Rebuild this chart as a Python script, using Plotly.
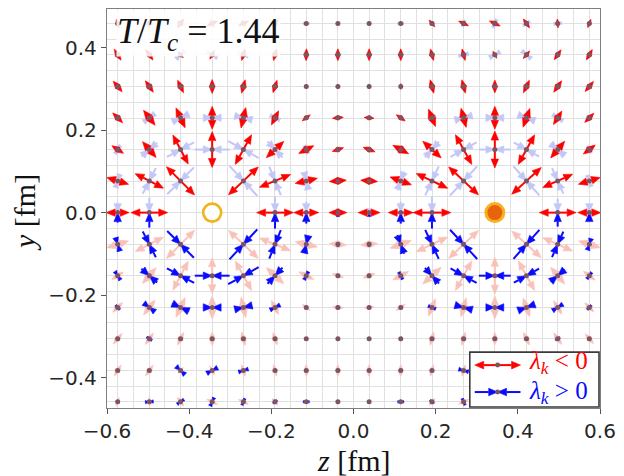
import math
import plotly.graph_objects as go

# ---------------- data ----------------
# lattice columns (z, fm) and rows (y, fm) where the principal axes are drawn
Z_COLS = [-0.574, -0.497, -0.421, -0.344, -0.268, -0.191, -0.115, -0.038,
          0.038, 0.115, 0.191, 0.268, 0.344, 0.421, 0.497, 0.574]
Y_ROWS = [0.459, 0.383, 0.306, 0.230, 0.153, 0.077, 0.0,
          -0.077, -0.153, -0.230, -0.306, -0.383, -0.459]

# orientation (deg, from +z, counter-clockwise) of the lambda_k<0 eigenvector;
# the lambda_k>0 eigenvector is perpendicular to it
RED_ANGLE = [
    [108, 85, 55, 25, 25, 50, 90, 90, 90, 90, 130, 155, 155, 125, 95, 70],
    [122, 125, 133, 62, 73, 75, 88, 90, 90, 90, 105, 105, 120, 50, 55, 60],
    [130, 125, 115, 90, 75, 72, 90, 90, 90, 90, 105, 105, 90, 65, 55, 50],
    [135, 128, 115, 90, 77, 63, 37, 5, 175, 145, 112, 105, 90, 70, 58, 45],
    [147, 131, 118, 90, 61, 43, 27, 18, 160, 152, 138, 119, 90, 61, 50, 37],
    [163, 153, 135, 90, 43, 22, 13, 5, 175, 160, 155, 137, 90, 42, 24, 17],
    [0, 0, 0, 0, 0, 0, 0, 0, 0, 0, 0, 0, 0, 0, 0, 0],
    [17, 27, 45, 90, 137, 158, 167, 175, 5, 20, 25, 43, 90, 138, 156, 163],
    [33, 49, 62, 90, 119, 137, 153, 162, 20, 28, 42, 61, 90, 119, 130, 143],
    [45, 52, 65, 90, 103, 117, 143, 175, 5, 35, 68, 75, 90, 110, 122, 135],
    [50, 55, 65, 90, 105, 108, 90, 90, 90, 90, 75, 75, 90, 115, 125, 130],
    [58, 55, 47, 118, 107, 105, 92, 90, 90, 90, 75, 75, 60, 130, 125, 120],
    [72, 95, 125, 155, 155, 130, 90, 90, 90, 90, 50, 25, 25, 55, 85, 110],
]
# |lambda_k| for lambda_k<0 (arrow length, arbitrary units); 0 = not shown
RED_MAG = [
    [9, 9, 11, 12, 11, 9, 3, 3, 3, 3, 9, 11, 12, 11, 9, 9],
    [13, 13, 8, 10, 12, 12, 12, 12, 12, 12, 12, 12, 8, 10, 12, 12],
    [14, 14, 14, 14, 14, 13, 5, 5, 5, 6, 14, 14, 13, 14, 14, 13],
    [14, 19, 22, 23, 21, 16, 10, 11, 10, 11, 19, 20, 23, 20, 16, 13],
    [14, 21, 33, 36, 34, 24, 17, 12, 13, 18, 25, 34, 37, 34, 22, 15],
    [23, 32, 40, 0, 41, 34, 23, 17, 17, 23, 35, 41, 0, 40, 33, 23],
    [23, 37, 0, 0, 0, 37, 25, 18, 22, 25, 38, 0, 0, 0, 37, 23],
    [23, 32, 40, 0, 41, 34, 23, 17, 17, 23, 35, 41, 0, 40, 33, 23],
    [14, 21, 33, 36, 34, 24, 17, 12, 13, 18, 25, 34, 37, 34, 22, 15],
    [14, 19, 22, 23, 21, 16, 10, 11, 10, 11, 19, 20, 23, 20, 16, 13],
    [14, 14, 14, 14, 14, 13, 5, 5, 5, 6, 14, 14, 13, 14, 14, 13],
    [13, 13, 8, 10, 12, 12, 12, 12, 12, 12, 12, 12, 8, 10, 12, 12],
    [9, 9, 11, 12, 11, 9, 3, 3, 3, 3, 9, 11, 12, 11, 9, 9],
]
# |lambda_k| for lambda_k>0
BLUE_MAG = [
    [3, 8, 8, 9, 7, 5, 6, 3, 3, 6, 5, 7, 9, 8, 8, 3],
    [3, 3, 12, 12, 10, 3, 3, 3, 3, 3, 3, 10, 12, 12, 3, 3],
    [3, 6, 3, 3, 3, 3, 3, 3, 3, 3, 3, 3, 3, 3, 5, 3],
    [6, 14, 19, 18, 18, 11, 3, 3, 3, 3, 8, 18, 18, 18, 12, 6],
    [10, 21, 31, 35, 35, 22, 9, 3, 3, 8, 21, 30, 32, 29, 19, 8],
    [14, 29, 38, 0, 41, 31, 18, 4, 4, 20, 32, 40, 0, 39, 28, 12],
    [20, 30, 0, 0, 0, 32, 22, 8, 8, 22, 32, 0, 0, 0, 28, 18],
    [14, 29, 38, 0, 41, 31, 18, 4, 4, 20, 32, 40, 0, 39, 28, 12],
    [10, 21, 31, 35, 35, 22, 9, 3, 3, 8, 21, 30, 32, 29, 19, 8],
    [6, 14, 19, 18, 18, 11, 3, 3, 3, 3, 8, 18, 18, 18, 12, 6],
    [3, 6, 3, 3, 3, 3, 3, 3, 3, 3, 3, 3, 3, 3, 5, 3],
    [3, 3, 12, 12, 10, 3, 3, 3, 3, 3, 3, 10, 12, 12, 3, 3],
    [3, 8, 8, 9, 7, 5, 6, 3, 3, 6, 5, 7, 9, 8, 8, 3],
]
QUARK_Z = [-0.344, 0.344]
QUARK_Y = [0.0, 0.0]
X_TICKS = [-0.6, -0.4, -0.2, 0.0, 0.2, 0.4, 0.6]
Y_TICKS = [-0.4, -0.2, 0.0, 0.2, 0.4]
LATTICE_STEP = 0.03825
TITLE = "<i>T</i>/<i>T</i><sub><i>c</i></sub> = 1.44"

# ---------------- styling ----------------
W, H = 624, 476
ML, MR, MT, MB = 107, 21, 8, 68
PW, PH = W - ML - MR, H - MT - MB
XR = [-0.6, 0.6]
YR = [-0.474, 0.494]
UNIT = (XR[1] - XR[0]) / PW        # arrow unit -> fm (1 unit = 1 px)
HEAD_LEN = 9 * UNIT
HEAD_W = 7.5 * UNIT
SHAFT = 2.0
RED, BLUE = "#ff0000", "#0a0aff"
RED_F, BLUE_F = "#f8c2ba", "#c3c7f6"
DOT = "#7d5462"
SERIF = "Liberation Serif"

groups = {k: {"lx": [], "ly": [], "hx": [], "hy": []}
          for k in ("red_f", "blue_f", "blue_s", "red_s")}


def head(g, tip, d, h, hw):
    bx, by = tip[0] - d[0] * h, tip[1] - d[1] * h
    nx, ny = -d[1] * hw, d[0] * hw
    g["hx"] += [tip[0], bx + nx, bx - nx, tip[0], None]
    g["hy"] += [tip[1], by + ny, by - ny, tip[1], None]
    return bx, by


def half_arrow(kind, c, d, mag, inward):
    hl = mag / 2.0 * UNIT
    if hl <= 0:
        return
    h = min(HEAD_LEN, hl)
    hw = HEAD_W / 2.0 * (h / HEAD_LEN)
    mid_y = c[1] + d[1] * hl / 2.0
    if kind == "red":
        g = groups["red_s"] if mid_y >= -1e-9 else groups["red_f"]
    else:
        g = groups["blue_s"] if mid_y < -1e-9 else groups["blue_f"]
    outer = (c[0] + d[0] * hl, c[1] + d[1] * hl)
    if inward:
        bx, by = head(g, c, (-d[0], -d[1]), h, hw)
        start = outer
    else:
        bx, by = head(g, outer, d, h, hw)
        start = c
    if hl > h:
        g["lx"] += [start[0], bx, None]
        g["ly"] += [start[1], by, None]


dot_x, dot_y = [], []
for i, yc in enumerate(Y_ROWS):
    for j, zc in enumerate(Z_COLS):
        rm, bm = RED_MAG[i][j], BLUE_MAG[i][j]
        if rm == 0 and bm == 0:
            continue
        th = math.radians(RED_ANGLE[i][j])
        u = (math.cos(th), math.sin(th))
        v = (-math.sin(th), math.cos(th))
        for s in (1, -1):
            half_arrow("red", (zc, yc), (s * u[0], s * u[1]), rm, False)
            half_arrow("blue", (zc, yc), (s * v[0], s * v[1]), bm, True)
        dot_x.append(zc)
        dot_y.append(yc)

fig = go.Figure()
colors = {"red_f": RED_F, "blue_f": BLUE_F, "blue_s": BLUE, "red_s": RED}
for k in ("red_f", "blue_f", "blue_s", "red_s"):
    g = groups[k]
    fig.add_trace(go.Scatter(x=g["lx"], y=g["ly"], mode="lines",
                             line=dict(color=colors[k], width=SHAFT),
                             hoverinfo="skip", showlegend=False))
    fig.add_trace(go.Scatter(x=g["hx"], y=g["hy"], mode="lines", fill="toself",
                             fillcolor=colors[k],
                             line=dict(color=colors[k], width=0.6),
                             hoverinfo="skip", showlegend=False))

fig.add_trace(go.Scatter(x=dot_x, y=dot_y, mode="markers",
                         marker=dict(size=5, color=DOT), hoverinfo="skip",
                         showlegend=False))
# quark (hollow) and antiquark (filled)
fig.add_trace(go.Scatter(x=QUARK_Z[:1], y=QUARK_Y[:1], mode="markers",
                         marker=dict(size=18, color="white",
                                     line=dict(color="#f0b418", width=2.6)),
                         hoverinfo="skip", showlegend=False))
fig.add_trace(go.Scatter(x=QUARK_Z[1:], y=QUARK_Y[1:], mode="markers",
                         marker=dict(size=18, color="#e8640c",
                                     line=dict(color="#f6b21e", width=3)),
                         hoverinfo="skip", showlegend=False))

axis_common = dict(showgrid=False, zeroline=False, showline=True, mirror=True,
                   linecolor="#7f7f7f", linewidth=1.3, ticks="outside",
                   ticklen=5, tickwidth=1.3, tickcolor="#555",
                   tickfont=dict(family="DejaVu Sans", size=20, color="#262626"),
                   tickformat=".1f",
                   minor=dict(tick0=0, dtick=LATTICE_STEP, showgrid=True,
                              gridcolor="#e0e0e0", gridwidth=1.3, ticks=""))
fig.update_xaxes(range=XR, tickvals=X_TICKS, **axis_common)
fig.update_yaxes(range=YR, tickvals=Y_TICKS, **axis_common)


def px2paper(px, py):
    return (px - ML) / PW, (H - MB - py) / PH


shapes = []
annotations = []

# legend box
x0, y0 = px2paper(472, 407)
x1, y1 = px2paper(602, 352)
shapes.append(dict(type="rect", xref="paper", yref="paper", x0=x0, y0=y0,
                   x1=x1, y1=y1, fillcolor="white",
                   line=dict(color="#3a3a3a", width=1.6), layer="above"))


def legend_arrow(cx, cy, half, color, inward):
    for s in (1, -1):
        outer = cx + s * half
        if inward:
            tip, base = cx, cx + s * 9
            line_from = outer
        else:
            tip, base = outer, outer - s * 9
            line_from = cx
        a = px2paper(line_from, cy)
        b = px2paper(base, cy)
        shapes.append(dict(type="line", xref="paper", yref="paper",
                           x0=a[0], y0=a[1], x1=b[0], y1=b[1],
                           line=dict(color=color, width=2), layer="above"))
        p1 = px2paper(tip, cy)
        p2 = px2paper(base, cy - 3.8)
        p3 = px2paper(base, cy + 3.8)
        shapes.append(dict(type="path", xref="paper", yref="paper",
                           path=f"M{p1[0]},{p1[1]} L{p2[0]},{p2[1]} L{p3[0]},{p3[1]} Z",
                           fillcolor=color, line=dict(color=color, width=0.6),
                           layer="above"))
    d0 = px2paper(cx - 2.5, cy + 2.5)
    d1 = px2paper(cx + 2.5, cy - 2.5)
    shapes.append(dict(type="circle", xref="paper", yref="paper",
                       x0=d0[0], y0=d0[1], x1=d1[0], y1=d1[1],
                       fillcolor=DOT, line=dict(width=0), layer="above"))


legend_arrow(500, 365, 23, RED, False)
legend_arrow(500, 392, 23, BLUE, True)
lx, ly = px2paper(530, 362)
annotations.append(dict(xref="paper", yref="paper", x=lx, y=ly, xanchor="left",
                        yanchor="middle", showarrow=False,
                        text="<i>λ</i><sub><i>k</i></sub> &lt; 0",
                        font=dict(family=SERIF, size=25, color=RED)))
lx, ly = px2paper(530, 392)
annotations.append(dict(xref="paper", yref="paper", x=lx, y=ly, xanchor="left",
                        yanchor="middle", showarrow=False,
                        text="<i>λ</i><sub><i>k</i></sub> &gt; 0",
                        font=dict(family=SERIF, size=25, color=BLUE)))

# temperature label
tx, ty = px2paper(116, 9)
annotations.append(dict(xref="paper", yref="paper", x=tx, y=ty, xanchor="left",
                        yanchor="top", showarrow=False, text=TITLE,
                        font=dict(family=SERIF, size=36, color="#111"),
                        bgcolor="rgba(255,255,255,0.85)", borderpad=0))

# axis titles
ax_x, ax_y = px2paper(355, 461)
annotations.append(dict(xref="paper", yref="paper", x=ax_x, y=ax_y,
                        xanchor="center", yanchor="middle", showarrow=False,
                        text="<i>z</i> [fm]",
                        font=dict(family=SERIF, size=30, color="#111")))
ay_x, ay_y = px2paper(24, 212)
annotations.append(dict(xref="paper", yref="paper", x=ay_x, y=ay_y,
                        xanchor="center", yanchor="middle", showarrow=False,
                        text="<i>y</i> [fm]", textangle=-90,
                        font=dict(family=SERIF, size=30, color="#111")))

fig.update_layout(width=W, height=H,
                  margin=dict(l=ML, r=MR, t=MT, b=MB, pad=0),
                  paper_bgcolor="white", plot_bgcolor="white",
                  showlegend=False, shapes=shapes, annotations=annotations)

fig.write_html("out.html")
